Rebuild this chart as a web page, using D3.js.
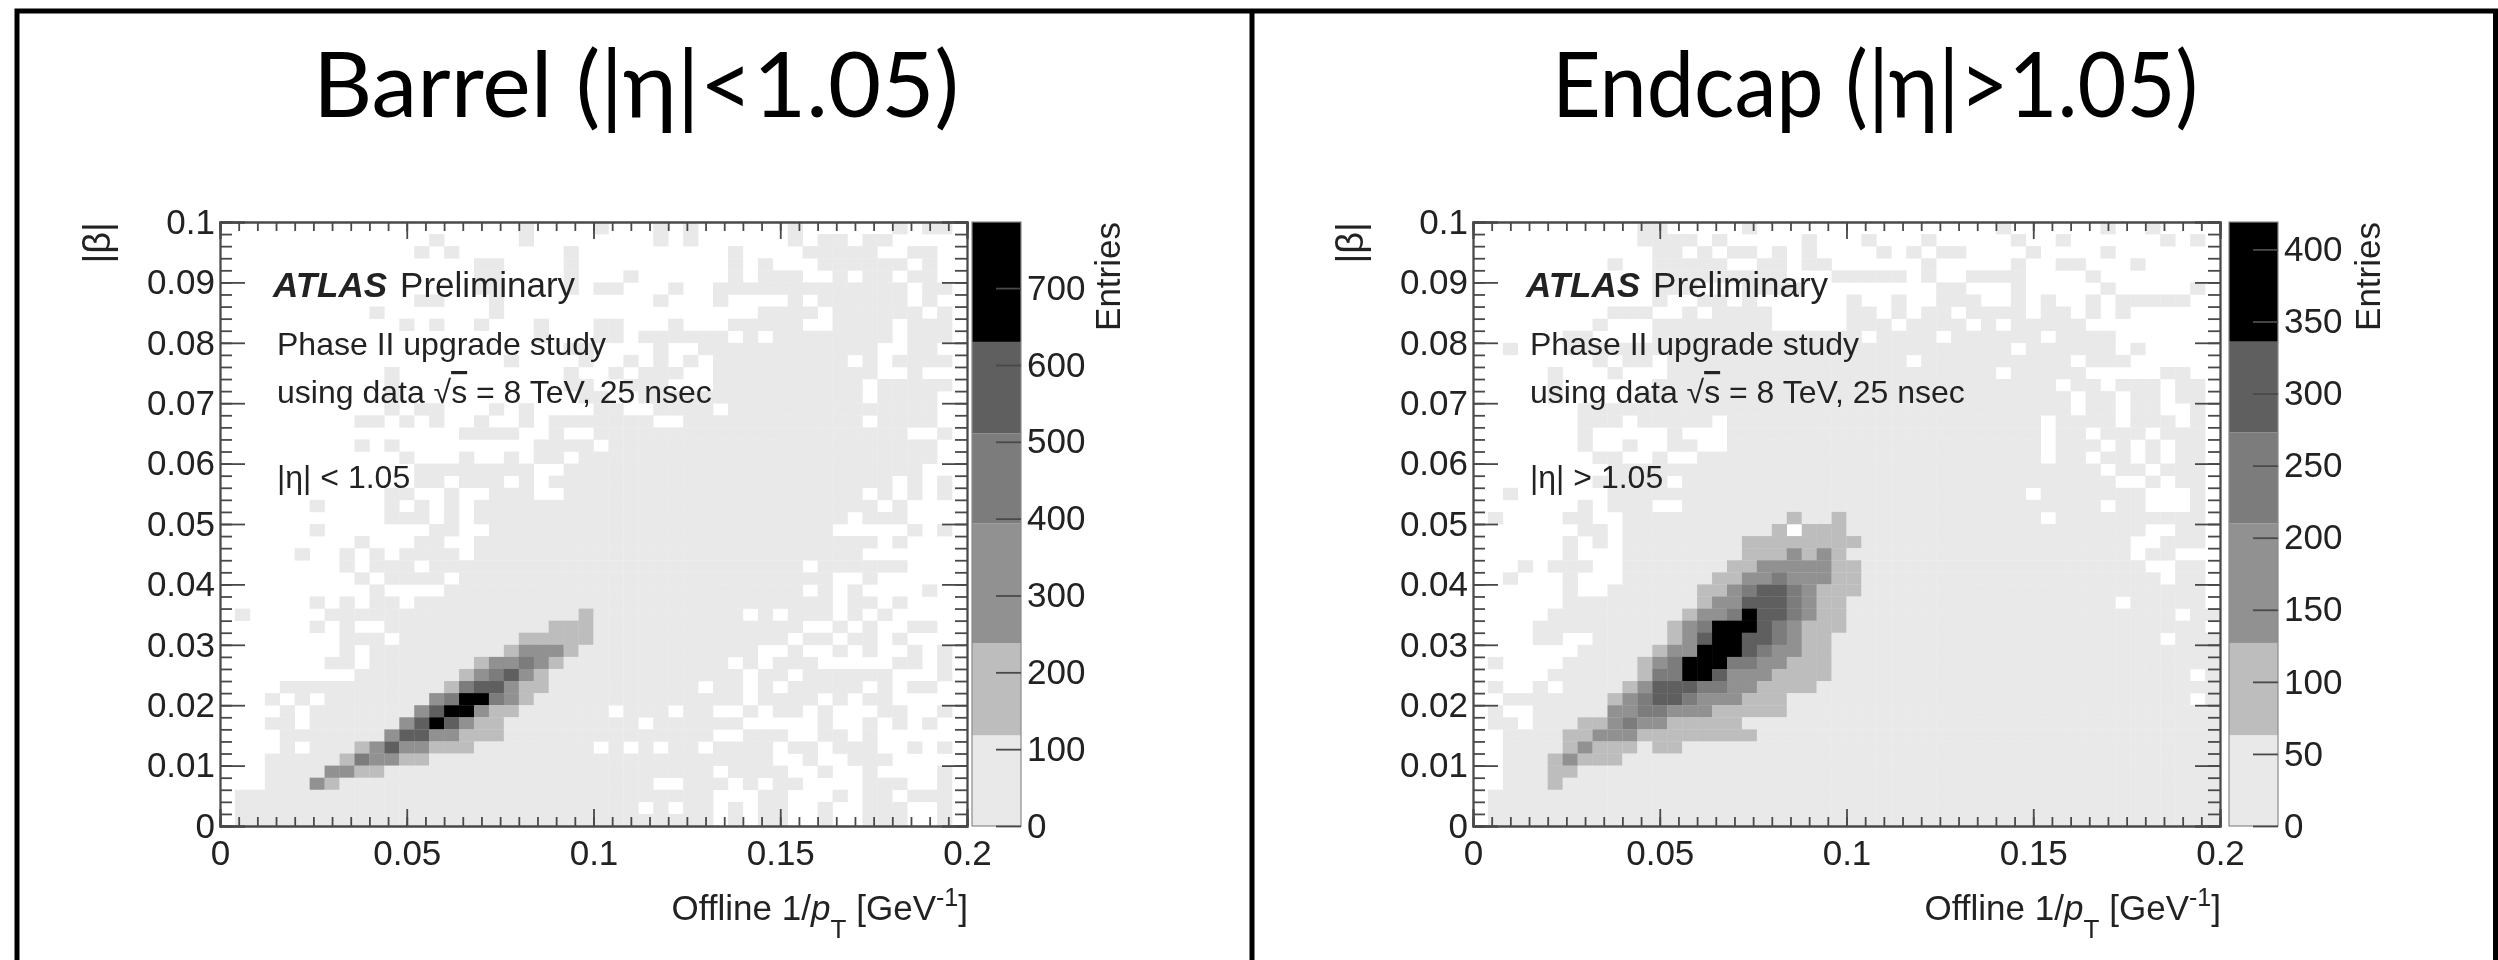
<!DOCTYPE html>
<html>
<head>
<meta charset="utf-8">
<script src="https://cdn.jsdelivr.net/npm/d3@7"></script>
<style>
    body { margin: 0; background: #fff; }
    text { font-family: "Liberation Sans", sans-serif; fill: #222; }
    .title { font-family: Lato, sans-serif; fill: #000; font-size: 92px; text-anchor: middle; }
    .axis text { font-size: 35px; fill: #222; font-family: "Liberation Sans", sans-serif; }
    .axis line, .axis path { stroke: #4a4a4a; stroke-width: 1.8; fill: none; }
    .note { font-size: 32px; }
</style>
</head>
<body>
<svg id="chart" width="2498" height="960"></svg>
<script>
/**
 * Histogram contents: one string per row, top row first, ten bins per group.
 * Each digit is the colour band of the bin, 0 = empty.
 */
const barrelRows = [
    '0000000000 0000000000 1000010001 0100000010 0000010110',
    '0000000000 0000100000 1000000001 0100000010 1101100000',
    '0000000000 0001010000 0001000000 0000100001 1111001100',
    '0000000000 0000000110 0001000000 0000101000 1111110100',
    '0000000000 0000000110 0001000100 0000101110 0101101100',
    '0000000000 0000000110 0001011000 1001111111 1111110110',
    '0000000000 0001100010 0000000001 0001000010 1111110100',
    '0000000000 1000000010 0000000000 0000001111 0111111010',
    '0000000000 0010100100 0100011000 1000111110 0111101110',
    '0000000000 0000000000 0100011011 1111010111 1111101110',
    '0000000000 0000000000 0001100001 0011111111 1111001100',
    '0000000000 0000000001 0000100101 0101111111 1101011110',
    '0000000000 0100000000 0001001011 1001111111 1111001000',
    '0000000000 0100000000 0001100111 0001111111 1110111110',
    '0000000000 0100000000 0000110011 1111111111 1110111100',
    '0000000000 0101100010 1000011001 1110111111 1111111100',
    '0000000001 1010100100 1011111110 0111111111 1110111100',
    '0000000000 0000001111 0010011111 1111111111 1111110010',
    '0000000001 0100000000 0111101111 1111111111 1111111100',
    '0000000000 0010001001 0110111111 1111111111 1111111100',
    '0000000000 0001111111 1001111111 1111111111 1111111000',
    '0000000000 0001101110 1011111111 1111111111 1111101010',
    '0000000000 0110010011 1001111111 1111111111 1110101010',
    '0000001000 0101010111 1111111111 1111111111 1111010000',
    '0000000000 0111010111 1111111111 1111111111 1101110000',
    '0000001000 0000110011 1111111111 1111111111 1000001010',
    '0000000001 0001100111 1111111111 1111111111 1111010000',
    '0000010010 1011110111 1111111111 1111111111 1110000000',
    '0000000010 1110111111 1111111111 1111111110 1111110000',
    '0000000001 0111101111 1111111111 1111111111 1001000000',
    '0000000000 1000011111 1111111111 1111111110 1010000100',
    '0000001010 1101111111 1111111111 1111111111 1011010000',
    '0100000111 1111111111 1111211111 1111101011 1010100000',
    '0000001010 0111111111 1122211111 1111111110 0101001100',
    '0000000011 1011111111 2222211111 1111111101 1011010000',
    '0000000010 1111111112 3332111111 1111110010 0101001010',
    '0000000110 1111111233 4321111111 1111010111 0000011010',
    '0000000001 1111112345 3211111111 1111101101 1111100010',
    '0000111111 1111124553 2211111111 1101101011 1110101100',
    '0001010111 1111346643 2111111111 1111101111 0101100000',
    '0000101111 1113566322 1111110111 0110010110 1000110010',
    '0001101111 1135653221 1111111101 1111100000 1001010100',
    '0000111111 1355332221 1111111111 1110011100 1101000000',
    '0000101112 3533222111 1111101010 1101111011 0111001010',
    '0001111124 3322111111 1111111111 1111111001 0011100000',
    '0001111332 2111111111 1111111111 1110111100 1001000010',
    '0001113211 1111111111 1111111110 0111010110 0001110010',
    '0111111111 1111111111 1111111111 1110001100 0101101110',
    '0111111111 1111111111 1111111101 0110101100 1001110010',
    '0111111111 1111111111 1111111111 1110101100 1001110010'
];

const endcapRows = [
    '0000000000 0110000010 0000000000 0000010000 0010010000',
    '0000000000 0111101000 0010001000 1000001001 0000001010',
    '0000000000 0011010110 1010000101 0110000100 0010000000',
    '0000000001 0011111001 1011000000 1000001001 1000100000',
    '0000000000 0011111111 1000111110 1001111000 0100000000',
    '0000000000 0011100011 1100000000 0110001000 0010000010',
    '0000000000 0010011010 0000010010 0111001010 0101111100',
    '0000000001 1100101111 0000011010 1101111011 0101000000',
    '0000000010 0011111111 0000011101 1110101111 1000000000',
    '0000001100 0011111111 1111110111 1011111101 1110000000',
    '0010001111 1111111111 1111111111 1111110111 1110100000',
    '0000000010 1101111111 1111111110 1111111111 0111000000',
    '0000010001 0001111111 1111111111 1111101111 1000001100',
    '0000010000 0011111111 1111111111 1111111110 1101110110',
    '0000010000 0111111111 1111111111 1111111111 0110110110',
    '0000000111 1111111111 1111111111 1111111111 0110110010',
    '0000000111 0111110111 1111111111 1111111101 1110111010',
    '0000000100 0001000111 1111111111 1111111101 1011101110',
    '0000000100 1001100111 1111111111 1111111101 1101010110',
    '0000000011 0010011111 1111111111 1111111101 1011010110',
    '0000000001 1111111111 1111111111 1111111111 1101101110',
    '0000000011 1110111111 1111111111 1111111111 1110010110',
    '0010000001 1111111111 1111111111 1111111011 1111100010',
    '0000000101 1100111111 1111111111 1111111111 1101100010',
    '0100001100 1111111111 1211211111 1111111101 1111111110',
    '0000000110 1111111111 2022211111 1111111111 1111100110',
    '0000001010 1111111122 2222221111 1111111111 1111001110',
    '0000001000 1111111122 2323211111 1111111111 1111011000',
    '0001011100 1111111223 3333221111 1111111111 1111100110',
    '0010001000 1111112233 4333221111 1111111111 1111110110',
    '0000001001 1111122345 5432221111 1111111111 1111111110',
    '0000001111 1111123355 5432211111 1111111111 1110111110',
    '0000011111 1111233465 5432211111 1111111111 1111111011',
    '0000111111 1112346665 4322211111 1111111111 1111111110',
    '0000110011 1112356655 4322111111 1111111111 1111110111',
    '0000000111 1123366654 3322111111 1111111111 1111111111',
    '0100001111 1234666443 3222111111 1111111111 1111111111',
    '0000011111 1244665333 2222111111 1111111111 1111111101',
    '0100101111 2355544332 2221111111 1111111111 1111111111',
    '0011111112 3455433322 2111111111 1111111111 1111111101',
    '0100111113 3443332222 2111111111 1111111111 1111111111',
    '0110111223 4332222211 1111111111 1111111111 1111111111',
    '0011112233 3222222221 1111111111 1111111111 1111111111',
    '0011112322 2122111111 1111111111 1111111111 1111111111',
    '0011123222 1111111111 1111111111 1111111111 1111111111',
    '0011122111 1111111111 1111111111 1111111111 1111111111',
    '0011121111 1111111111 1111111111 1111111111 1111111111',
    '0111111111 1111111111 1111111111 1111111111 1111111111',
    '0111111111 1111111111 1111111111 1111111111 1111111111',
    '0111111111 1111111111 1111111111 1111111111 1111111111'
];

// Colour band edges of the two z axes, in entries
const barrelBands = [0, 118, 238, 394, 511, 630, 786];
const endcapBands = [0, 63, 127, 210, 273, 336, 419];

// Band colours, lowest first
const bandColors = ['#e9e9e9', '#bdbdbd', '#919191', '#7b7b7b', '#5f5f5f', '#000000'];

// Tick values
const xMajor = [0, 0.05, 0.1, 0.15, 0.2];
const yMajor = [0, 0.01, 0.02, 0.03, 0.04, 0.05, 0.06, 0.07, 0.08, 0.09, 0.1];
const barrelZTicks = [0, 100, 200, 300, 400, 500, 600, 700];
const endcapZTicks = [0, 50, 100, 150, 200, 250, 300, 350, 400];

const binX = 0.004, binY = 0.002;

const svg = d3.select('#chart');

const defs = svg.append('defs');
defs.append('filter').attr('id', 'soft')
    .attr('filterUnits', 'userSpaceOnUse')
    .attr('x', 0).attr('y', 0).attr('width', 2498).attr('height', 960)
    .append('feGaussianBlur').attr('stdDeviation', 0.7);

/**
 * Draws one panel: histogram, axes, colour bar and labels.
 */
function drawPanel(opts) {
    const top = 222, bottom = 826;
    const g = svg.append('g').attr('filter', 'url(#soft)');

    const x = d3.scaleLinear().domain([0, 0.2]).range([opts.left, opts.left + 747]);
    const y = d3.scaleLinear().domain([0, 0.1]).range([bottom, top]);
    const z = d3.scaleLinear().domain([0, opts.bands[opts.bands.length - 1]]).range([bottom, top]);

    // Histogram bins
    const cells = [];
    opts.rows.forEach((row, i) => {
        row.replace(/ /g, '').split('').forEach((level, c) => {
            if (+level > 0) cells.push({ c: c, r: opts.rows.length - 1 - i, level: +level });
        });
    });

    g.append('g').selectAll('rect').data(cells).join('rect')
        .attr('x', d => x(d.c * binX))
        .attr('y', d => y((d.r + 1) * binY))
        .attr('width', d => x((d.c + 1) * binX) - x(d.c * binX) + 0.3)
        .attr('height', d => y(d.r * binY) - y((d.r + 1) * binY) + 0.3)
        .attr('fill', d => bandColors[d.level - 1]);

    // Axes, ticks point inwards as in ROOT
    const xMinor = d3.range(0, 0.2001, 0.005);
    const yMinor = d3.range(0, 0.1001, 0.002);
    const noLabel = () => '';
    const label = d => String(d);
    const axes = g.append('g').attr('class', 'axis');

    axes.append('g').attr('transform', `translate(0,${bottom})`)
        .call(d3.axisBottom(x).tickValues(xMinor).tickSize(-9).tickFormat(noLabel));
    axes.append('g').attr('transform', `translate(0,${bottom})`)
        .call(d3.axisBottom(x).tickValues(xMajor).tickSize(-17).tickPadding(14).tickFormat(label));
    axes.append('g').attr('transform', `translate(0,${top})`)
        .call(d3.axisTop(x).tickValues(xMinor).tickSize(-9).tickFormat(noLabel));
    axes.append('g').attr('transform', `translate(0,${top})`)
        .call(d3.axisTop(x).tickValues(xMajor).tickSize(-17).tickFormat(noLabel));

    axes.append('g').attr('transform', `translate(${opts.left},0)`)
        .call(d3.axisLeft(y).tickValues(yMinor).tickSize(-12).tickFormat(noLabel));
    axes.append('g').attr('transform', `translate(${opts.left},0)`)
        .call(d3.axisLeft(y).tickValues(yMajor).tickSize(-25).tickPadding(5).tickFormat(label));
    axes.append('g').attr('transform', `translate(${opts.left + 747},0)`)
        .call(d3.axisRight(y).tickValues(yMinor).tickSize(-12).tickFormat(noLabel));
    axes.append('g').attr('transform', `translate(${opts.left + 747},0)`)
        .call(d3.axisRight(y).tickValues(yMajor).tickSize(-25).tickFormat(noLabel));

    // Colour bar
    const bar = g.append('g');
    bar.selectAll('rect').data(bandColors).join('rect')
        .attr('x', opts.barLeft)
        .attr('y', (d, i) => z(opts.bands[i + 1]))
        .attr('width', opts.barRight - opts.barLeft)
        .attr('height', (d, i) => z(opts.bands[i]) - z(opts.bands[i + 1]))
        .attr('fill', d => d);
    bar.append('rect')
        .attr('x', opts.barLeft).attr('y', top)
        .attr('width', opts.barRight - opts.barLeft).attr('height', bottom - top)
        .attr('fill', 'none').attr('stroke', '#8a8a8a').attr('stroke-width', 1.2);

    g.append('g').attr('class', 'axis').attr('transform', `translate(${opts.barRight},0)`)
        .call(d3.axisRight(z).tickValues(opts.zTicks).tickSize(-25).tickPadding(6).tickFormat(label))
        .call(a => a.select('.domain').remove());

    g.append('text')
        .attr('transform', `translate(${opts.entriesX},${top}) rotate(-90)`)
        .attr('text-anchor', 'end').attr('font-size', 35)
        .text('Entries');

    g.append('text')
        .attr('transform', `translate(${opts.left - 110},${top}) rotate(-90)`)
        .attr('text-anchor', 'end').attr('font-size', 38)
        .text('|β|');

    // Offline 1/pT label, right aligned to the axis end
    const xLabel = g.append('text')
        .attr('x', opts.left + 748).attr('y', 920)
        .attr('text-anchor', 'end').attr('font-size', 35);
    xLabel.append('tspan').text('Offline 1/');
    xLabel.append('tspan').attr('font-style', 'italic').text('p');
    xLabel.append('tspan').attr('dy', 18).attr('font-size', 26).text('T');
    xLabel.append('tspan').attr('dy', -18).attr('dx', 10).text('[GeV');
    xLabel.append('tspan').attr('dy', -14).attr('font-size', 25).text('-1');
    xLabel.append('tspan').attr('dy', 14).text(']');

    // Notes inside the frame
    const atlas = g.append('text').attr('x', opts.left + 53).attr('y', 297).attr('font-size', 35);
    atlas.append('tspan').attr('font-weight', 'bold').attr('font-style', 'italic').text('ATLAS');
    atlas.append('tspan').attr('dx', 13).text('Preliminary');

    g.append('text').attr('class', 'note').attr('x', opts.left + 57).attr('y', 355)
        .text('Phase II upgrade study');

    const data = g.append('text').attr('class', 'note').attr('x', opts.left + 57).attr('y', 403);
    data.append('tspan').text('using data √');
    data.append('tspan').style('text-decoration', 'overline').text('s');
    data.append('tspan').text(' = 8 TeV, 25 nsec');

    g.append('text').attr('class', 'note').attr('x', opts.left + 57).attr('y', 488)
        .text(opts.note);

    svg.append('text').attr('class', 'title')
        .attr('x', opts.titleX).attr('y', 117)
        .attr('textLength', 646).attr('lengthAdjust', 'spacingAndGlyphs')
        .text(opts.title);
}

// Slide frame
const frame = svg.append('g').attr('stroke', '#000').attr('fill', 'none').attr('stroke-width', 5);
frame.append('path').attr('d', 'M17,960V11H2495.5V960');
frame.append('path').attr('d', 'M1252,11V960');

drawPanel({
    rows: barrelRows, bands: barrelBands, zTicks: barrelZTicks,
    left: 220, barLeft: 972, barRight: 1021, entriesX: 1120,
    title: 'Barrel (|η|<1.05)', titleX: 636, note: '|η| < 1.05'
});

drawPanel({
    rows: endcapRows, bands: endcapBands, zTicks: endcapZTicks,
    left: 1473, barLeft: 2229, barRight: 2278, entriesX: 2380,
    title: 'Endcap (|η|>1.05)', titleX: 1875, note: '|η| > 1.05'
});
</script>
</body>
</html>
